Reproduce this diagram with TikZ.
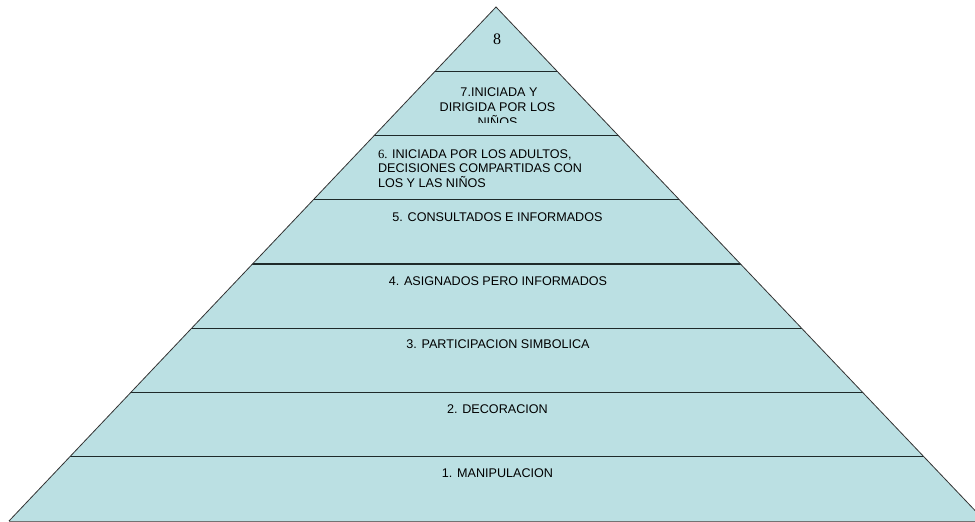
\documentclass[tikz,border=0pt]{standalone}
\usepackage{fontspec}
\setmainfont{Liberation Sans}
\newfontfamily\seriffont{Liberation Serif}
\definecolor{pyrfill}{HTML}{BBE0E3}
\definecolor{pyrline}{HTML}{1E2A2A}
\begin{document}
\begin{tikzpicture}[x=1bp,y=-1bp,
  lbl/.style={inner sep=0pt,outer sep=0pt,anchor=base,font=\fontsize{12.6bp}{15bp}\selectfont},
  lbll/.style={lbl,anchor=base west},
  layerline/.style={draw=pyrline,line width=1.3bp}]
\useasboundingbox (0,0) rectangle (975,522);
\begin{scope}
\clip (0,0) rectangle (975,522);
\coordinate (apex) at (496,7);
\coordinate (bl) at (9,521);
\coordinate (br) at (985,521);
\fill[pyrfill] (apex) -- (bl) -- (br) -- cycle;
\begin{scope}
\clip (apex) -- (bl) -- (br) -- cycle;
\foreach \yy in {71.25,135.5,199.75,264,328.25,392.5,456.75}{
  \draw[layerline] (0,\yy) -- (975,\yy);
}
\end{scope}
\draw[black!80,line width=0.8bp] (bl) -- (apex) -- (br);
\draw[black!55,line width=1bp] (bl) -- (br);
\end{scope}
% labels
\node[lbl,font=\seriffont\fontsize{16bp}{18bp}\selectfont] (t8) at (497,45) {8};
\node[lbl] (t7a) at (499,96.7) {7.INICIADA Y};
\node[lbl] (t7b) at (497.5,111.5) {DIRIGIDA POR LOS};
\begin{scope}
\clip (0,0) rectangle (975,122.7);
\node[lbl] (t7c) at (497.5,127) {NIÑOS};
\end{scope}
\node[lbll] (t6a) at (378,158.3) {{\seriffont 6.} INICIADA POR LOS ADULTOS,};
\node[lbll] (t6b) at (378,173) {DECISIONES COMPARTIDAS CON};
\node[lbll] (t6c) at (378,187.7) {LOS Y LAS NIÑOS};
\node[lbl] (t5) at (497.5,222) {5. CONSULTADOS E INFORMADOS};
\node[lbl] (t4) at (498,286) {4. ASIGNADOS PERO INFORMADOS};
\node[lbl] (t3) at (498,349) {3. PARTICIPACION SIMBOLICA};
\node[lbl] (t2) at (497.5,413) {2. DECORACION};
\node[lbl] (t1) at (497.5,477) {1. MANIPULACION};
\end{tikzpicture}
\end{document}
